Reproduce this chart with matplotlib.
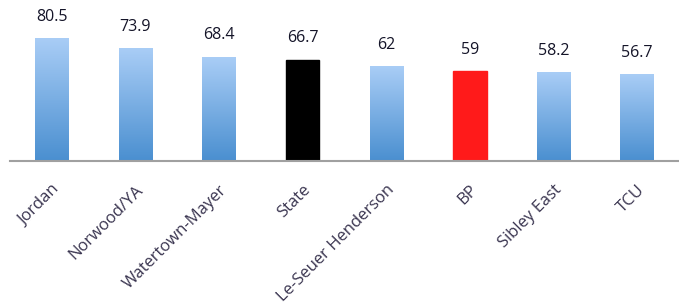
import numpy as np
import matplotlib
matplotlib.use('Agg')
import matplotlib.pyplot as plt
from matplotlib.colors import LinearSegmentedColormap

# Data
schools = ['Jordan', 'Norwood/YA', 'Watertown-Mayer', 'State',
           'Le-Seuer Henderson', 'BP', 'Sibley East', 'TCU']
scores = [80.5, 73.9, 68.4, 66.7, 62, 59, 58.2, 56.7]
score_labels = ['80.5', '73.9', '68.4', '66.7', '62', '59', '58.2', '56.7']
solid_colors = {'State': '#000000', 'BP': '#ff1a1a'}

plt.rcParams['font.family'] = ['Open Sans', 'DejaVu Sans']

fig = plt.figure(figsize=(6.79, 3.08), dpi=100)
# axes placed in pixels: left 10, bottom baseline at y=161 from top
ax = fig.add_axes([10 / 679, (308 - 161) / 308, 669 / 679, 152 / 308])

x = np.arange(len(schools))
bars = ax.bar(x, scores, width=0.4, color='none', edgecolor='none')

# Blue gradient: light at top, darker at bottom
blue_cmap = LinearSegmentedColormap.from_list('blues', ['#4a8fd0', '#a9cdf6'])
grad = np.linspace(0, 1, 256).reshape(-1, 1)

for bar, name in zip(bars, schools):
    x0 = bar.get_x()
    w = bar.get_width()
    h = bar.get_height()
    if name in solid_colors:
        ax.add_patch(plt.Rectangle((x0, 0), w, h, color=solid_colors[name]))
    else:
        ax.imshow(grad, extent=(x0, x0 + w, 0, h), origin='lower',
                  cmap=blue_cmap, aspect='auto', zorder=2)

for xi, v, lab in zip(x, scores, score_labels):
    ax.text(xi, v + 9, lab, ha='center', va='bottom', fontsize=11.5,
            color='#141428')

ax.set_xlim(-0.5, len(schools) - 0.5)
ax.set_ylim(0, 100)

for side in ['top', 'right', 'left']:
    ax.spines[side].set_visible(False)
ax.spines['bottom'].set_color('#a0a0a0')
ax.spines['bottom'].set_linewidth(1.5)

ax.set_yticks([])
ax.set_xticks(x)
ax.set_xticklabels(schools, rotation=45, ha='right', rotation_mode='anchor',
                   fontsize=12, color='#3a3550')
ax.tick_params(axis='x', length=0, pad=15)

fig.savefig('out.png', dpi=100)
